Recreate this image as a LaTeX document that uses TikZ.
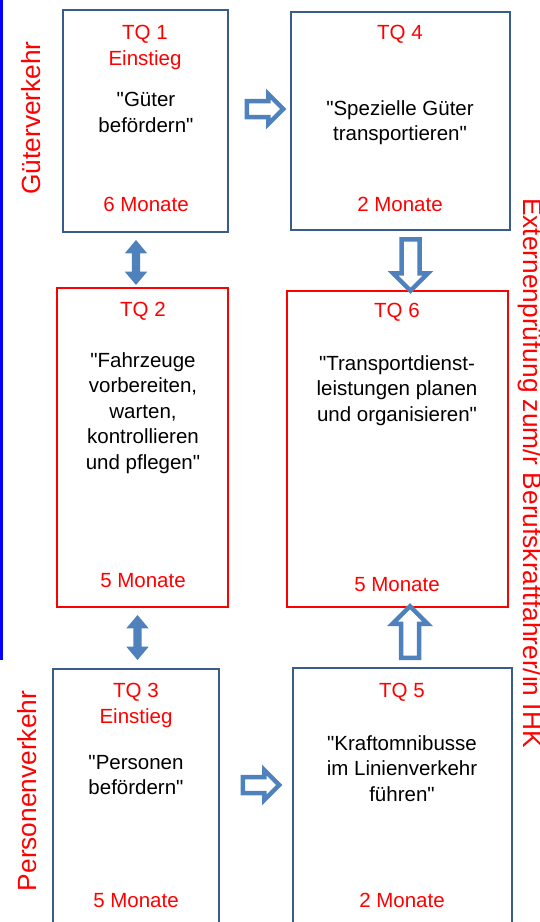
\documentclass[tikz,border=0pt]{standalone}
\usepackage{fontspec}
\setmainfont{Liberation Sans}[Ligatures=TeXOff]
\usepackage{tikz}
\usetikzlibrary{shapes.arrows}
\definecolor{boxblue}{RGB}{56,93,138}
\definecolor{arrowblue}{RGB}{79,129,189}
\definecolor{tqred}{RGB}{255,0,0}
\newcommand{\boxfont}{\fontsize{20.5}{25.5}\selectfont}
\newcommand{\sidefont}{\fontsize{26.3}{30}\selectfont}

\begin{document}
\begin{tikzpicture}[x=1pt,y=-1pt,
  bluebox/.style={draw=boxblue,line width=2pt,inner sep=0pt},
  redbox/.style={draw=tqred,line width=2pt,inner sep=0pt},
  head/.style={anchor=north,inner sep=0pt,align=center,text=tqred,font=\boxfont},
  body/.style={anchor=north,inner sep=0pt,align=center,font=\boxfont},
  side/.style={anchor=base,inner sep=0pt,text=tqred,font=\sidefont},
  hollow/.style={single arrow,draw=arrowblue,fill=white,line width=4.5pt,inner sep=0pt,text depth=0pt},
  twoway/.style={double arrow,fill=arrowblue,inner sep=0pt,text depth=0pt,text height=8pt,
    double arrow head extend=7pt,double arrow tip angle=80,minimum height=45pt,rotate=90}]
  \useasboundingbox (0,0) rectangle (539,922);
  \clip (0,0) rectangle (539,922);
  \fill[blue] (0,0) rectangle (3,660);

  % boxes
  \node[bluebox,minimum width=165pt,minimum height=222pt] (tq1) at (145.5,121) {};
  \node[bluebox,minimum width=219pt,minimum height=218pt] (tq4) at (400.5,121) {};
  \node[redbox,minimum width=171pt,minimum height=319pt] (tq2) at (142.5,447.5) {};
  \node[redbox,minimum width=221pt,minimum height=316pt] (tq6) at (397.5,449) {};
  \node[bluebox,minimum width=166pt,minimum height=291pt] (tq3) at (136,814.5) {};
  \node[bluebox,minimum width=219pt,minimum height=292pt] (tq5) at (402.5,814) {};

  % texts
  \node[head] (tq1head) at (145,25) {TQ 1\\Einstieg};
  \node[body] (tq1body) at (146,92) {"Güter\\befördern"};
  \node[head] (tq1time) at (146,197) {6 Monate};
  \node[head] (tq4head) at (400,25) {TQ 4};
  \node[body] (tq4body) at (400,100) {"Spezielle Güter\\transportieren"};
  \node[head] (tq4time) at (400,197) {2 Monate};
  \node[head] (tq2head) at (143,302) {TQ 2};
  \node[body] (tq2body) at (143,352) {"Fahrzeuge\\vorbereiten,\\warten,\\kontrollieren\\und pflegen"};
  \node[head] (tq2time) at (143,573) {5 Monate};
  \node[head] (tq6head) at (397,303) {TQ 6};
  \node[body] (tq6body) at (397,355) {"Transportdienst-\\leistungen planen\\und organisieren"};
  \node[head] (tq6time) at (397,577) {5 Monate};
  \node[head] (tq3head) at (136,683) {TQ 3\\Einstieg};
  \node[body] (tq3body) at (136,755) {"Personen\\befördern"};
  \node[head] (tq3time) at (136,893) {5 Monate};
  \node[head] (tq5head) at (402,683) {TQ 5};
  \node[body] (tq5body) at (402,735) {"Kraftomnibusse\\im Linienverkehr\\führen"};
  \node[head] (tq5time) at (402,893) {2 Monate};

  % side labels
  \node[side,rotate=90] (gueter) at (41,118) {Güterverkehr};
  \node[side,rotate=90] (personen) at (36.5,791) {Personenverkehr};
  \node[side,rotate=-90,anchor=base west] (extern) at (523,198) {Externenprüfung zum/r Berufskraftfahrer/in IHK};

  % arrows
  \node[hollow,text height=11.5pt,single arrow head extend=7pt,minimum height=36.5pt] (a14) at (261,109) {};
  \node[hollow,text height=11.5pt,single arrow head extend=7pt,minimum height=36.5pt] (a35) at (257,785) {};
  \node[hollow,text height=13.5pt,single arrow head extend=8.5pt,minimum height=51.5pt,rotate=-90] (a46) at (410.5,260.5) {};
  \node[hollow,text height=13.5pt,single arrow head extend=8.5pt,minimum height=51.5pt,rotate=90] (a56) at (410,636.5) {};
  \node[twoway] (a12) at (136,262.5) {};
  \node[twoway] (a23) at (137.5,637.5) {};
\end{tikzpicture}
\end{document}
